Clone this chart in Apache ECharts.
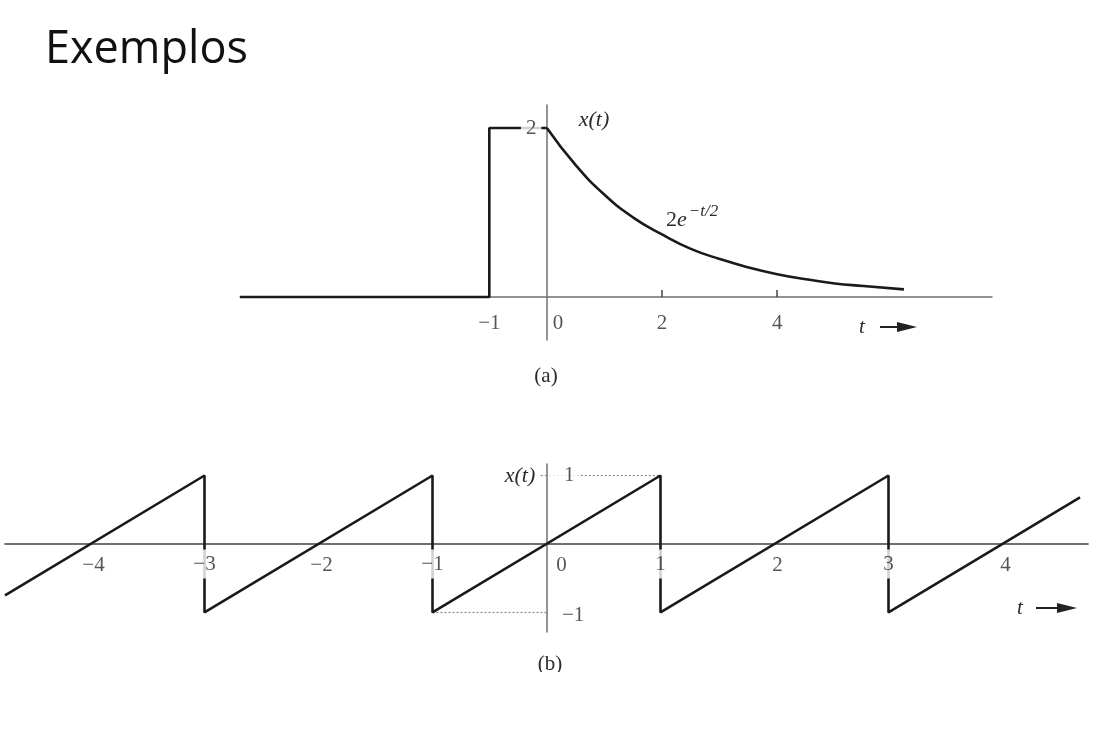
<!DOCTYPE html>
<html>
<head>
<meta charset="utf-8">
<script src="https://cdn.jsdelivr.net/npm/echarts@6/dist/echarts.min.js"></script>
<style>
  html, body { margin: 0; padding: 0; background: #fff; }
  #chart { width: 1093px; height: 731px; }
</style>
</head>
<body>
<div id="chart"></div>
<script>
// (a) pulse then decay 2e^{-t/2}
const stepT = [-5.33, -1, -1, 0];
const stepX = [0, 0, 2, 2];
const expT = [0, 0.5, 1, 1.5, 2, 2.5, 3, 3.5, 4, 4.5, 5, 5.5, 6.2];
const expX = [2, 1.56, 1.21, 0.94, 0.74, 0.57, 0.45, 0.35, 0.27, 0.21, 0.16, 0.13, 0.09];
const ticksA = [2, 4];
const labelsA = [-1, 0, 2, 4];
const yLabelsA = [2];

// (b) sawtooth
const sawT = [-4.75, -3, -3, -1, -1, 1, 1, 3, 3, 4.68];
const sawX = [-0.75, 1, -1, 1, -1, 1, -1, 1, -1, 0.68];
const labelsB = [-4, -3, -2, -1, 0, 1, 2, 3, 4];
const yLabelsB = [1, -1];
const guideTopT = [-0.05, 1];
const guideTopX = [1, 1];
const guideBotT = [-1, 0];
const guideBotX = [-1, -1];

const pairs = (xs, ys) => xs.map((x, i) => [x, ys[i]]);
const minus = (v) => (v < 0 ? '\u2212' + (-v) : String(v));

const serif = 'Liberation Serif';
const ink = '#1a1a1a';
const axisGrey = '#707070';
const txt = '#2a2a2a';

const chart = echarts.init(document.getElementById('chart'));

const curve = (idx, data, smooth) => ({
  type: 'line',
  xAxisIndex: idx,
  yAxisIndex: idx,
  data: data,
  smooth: smooth,
  symbol: 'none',
  lineStyle: { color: ink, width: 2.6 },
  z: 2,
});

const guide = (data) => ({
  type: 'line',
  xAxisIndex: 1,
  yAxisIndex: 1,
  data: data,
  symbol: 'none',
  lineStyle: { color: '#8a8a8a', width: 1.2, type: [2, 2] },
  z: 1,
});

// tick labels as text placed at their own values on the zero lines;
// a white box behind a label breaks the line it sits on
const tickText = (idx, data, which, label) => ({
  type: 'scatter',
  xAxisIndex: idx,
  yAxisIndex: idx,
  silent: true,
  symbolSize: 1,
  itemStyle: { color: 'rgba(0,0,0,0)' },
  z: 20,
  data: data,
  label: Object.assign({
    show: true, fontFamily: serif, fontSize: 21, color: txt,
    formatter: (p) => minus(p.value[which]),
  }, label),
});

const arrow = (tx, ty, x1, x2) => ({
  type: 'group',
  children: [
    { type: 'text', x: tx, y: ty, style: { text: 't', font: 'italic 21px "Liberation Serif"', fill: txt, align: 'center', verticalAlign: 'middle' } },
    { type: 'line', shape: { x1: x1, y1: ty, x2: x2 - 18, y2: ty }, style: { stroke: '#222', lineWidth: 2 } },
    { type: 'polygon', shape: { points: [[x2 - 20, ty - 5], [x2, ty], [x2 - 20, ty + 5]] }, style: { fill: '#222' } },
  ],
});

const plainAxis = (grid, min, max, width) => ({
  type: 'value', gridIndex: grid, min: min, max: max,
  splitLine: { show: false },
  axisLine: { onZero: true, lineStyle: { color: axisGrey, width: width } },
  axisTick: { show: false },
  axisLabel: { show: false },
});

const xA = plainAxis(0, -5.33, 7.73, 1.5);
xA.axisTick = { show: true, customValues: ticksA, inside: true, length: 7, lineStyle: { color: '#444', width: 1.5 } };

const isOdd = (v) => Math.abs(v) % 2 === 1;
const onX = (vals) => vals.map((v) => [v, 0]);
const onY = (vals) => vals.map((v) => [0, v]);

const option = {
  animation: false,
  backgroundColor: '#fff',
  grid: [
    { left: 240, right: 101, top: 105, bottom: 391 },
    { left: 5, right: 5, top: 464, bottom: 99 },
  ],
  xAxis: [xA, plainAxis(1, -4.75, 4.75, 1.8)],
  yAxis: [plainAxis(0, -0.509, 2.272, 1.5), plainAxis(1, -1.285, 1.168, 1.5)],
  series: [
    curve(0, pairs(stepT, stepX), false),
    curve(0, pairs(expT, expX), true),
    guide(pairs(guideTopT, guideTopX)),
    guide(pairs(guideBotT, guideBotX)),
    curve(1, pairs(sawT, sawX), false),
    // (a) labels
    tickText(0, onX(labelsA.filter((v) => v !== 0)), 0, { position: 'bottom', distance: 15 }),
    tickText(0, onX(labelsA.filter((v) => v === 0)), 0, { position: 'bottom', distance: 15, offset: [11, 0] }),
    tickText(0, onY(yLabelsA), 1, { position: 'left', distance: 5, backgroundColor: '#fff', padding: [2, 5, 2, 5] }),
    // (b) labels
    tickText(1, onX(labelsB.filter(isOdd)), 0, { position: 'bottom', distance: 5, backgroundColor: '#fff', padding: [4, 3, 4, 3] }),
    tickText(1, onX(labelsB.filter((v) => v !== 0 && !isOdd(v))), 0, { position: 'bottom', distance: 10, offset: [3, 0] }),
    tickText(1, onX(labelsB.filter((v) => v === 0)), 0, { position: 'bottom', distance: 10, offset: [15, 0] }),
    tickText(1, onY(yLabelsB.filter((v) => v > 0)), 1, { position: 'right', distance: 1, backgroundColor: '#fff', padding: [2, 4, 2, 16] }),
    tickText(1, onY(yLabelsB.filter((v) => v < 0)), 1, { position: 'right', distance: 1, offset: [0, 3], padding: [2, 4, 2, 14] }),
  ],
  graphic: [
    { type: 'text', x: 45, y: 50, style: { text: 'Exemplos', font: '45px "Open Sans"', fill: '#111', verticalAlign: 'middle' } },
    { type: 'text', x: 594, y: 120, style: { text: 'x(t)', font: 'italic 22px "Liberation Serif"', fill: txt, align: 'center', verticalAlign: 'middle' } },
    {
      type: 'text', x: 666, y: 220,
      style: {
        text: '{n|2}{b|e}{s|\u2212t/2}',
        verticalAlign: 'middle',
        rich: {
          n: { font: '22px "Liberation Serif"', fill: txt },
          b: { font: 'italic 22px "Liberation Serif"', fill: txt },
          s: { font: 'italic 17px "Liberation Serif"', fill: txt, padding: [0, 0, 16, 2] },
        },
      },
    },
    arrow(862, 327, 880, 917),
    { type: 'text', x: 546, y: 376, style: { text: '(a)', font: '21px "Liberation Serif"', fill: txt, align: 'center', verticalAlign: 'middle' } },
    { type: 'text', x: 520, y: 476, style: { text: 'x(t)', font: 'italic 22px "Liberation Serif"', fill: txt, align: 'center', verticalAlign: 'middle' } },
    arrow(1020, 608, 1036, 1077),
    { type: 'text', x: 550, y: 664, style: { text: '(b)', font: '21px "Liberation Serif"', fill: txt, align: 'center', verticalAlign: 'middle' } },
    { type: 'rect', z: 100, shape: { x: 0, y: 672, width: 1093, height: 60 }, style: { fill: '#fff' } },
  ],
};

chart.setOption(option);
window.onresize = () => chart.resize();
</script>
</body>
</html>
